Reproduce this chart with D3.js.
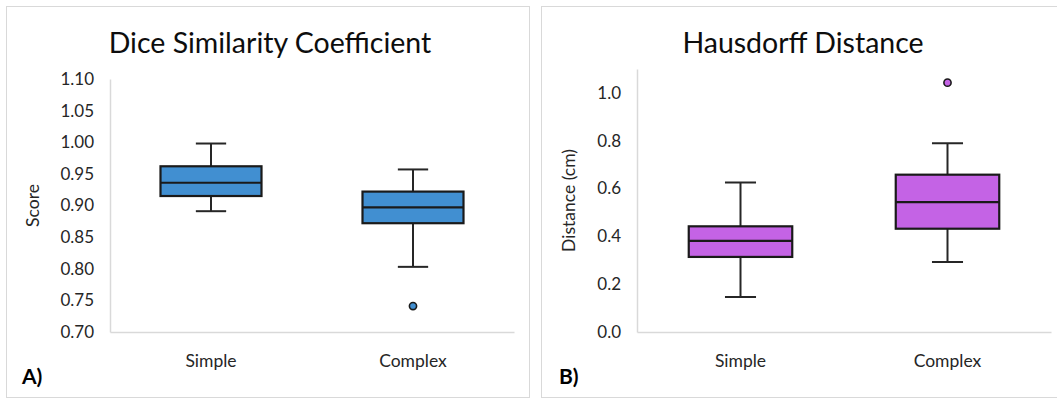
<!DOCTYPE html>
<html>
<head>
<meta charset="utf-8">
<script src="https://cdn.jsdelivr.net/npm/d3@7"></script>
<style>
  body { margin: 0; background: #fff; }
  svg { display: block; font-family: Lato, "Open Sans", sans-serif; }
</style>
</head>
<body>
<div id="container"></div>
<script>
// box plot summary values
var categories = ["Simple", "Complex"];

var diceMin = [0.891, 0.803];
var diceQ1 = [0.915, 0.872];
var diceMedian = [0.936, 0.897];
var diceQ3 = [0.962, 0.922];
var diceMax = [0.998, 0.957];
var diceOutliers = [[], [0.741]];
var diceTicks = [0.70, 0.75, 0.80, 0.85, 0.90, 0.95, 1.00, 1.05, 1.10];

var hdMin = [0.146, 0.293];
var hdQ1 = [0.314, 0.432];
var hdMedian = [0.381, 0.543];
var hdQ3 = [0.442, 0.658];
var hdMax = [0.625, 0.789];
var hdOutliers = [[], [1.043]];
var hdTicks = [0.0, 0.2, 0.4, 0.6, 0.8, 1.0];

var width = 1057, height = 399;

var svg = d3.select("#container").append("svg")
    .attr("width", width)
    .attr("height", height);

function makeRows(mins, q1s, meds, q3s, maxs, outs) {
    return categories.map(function(c, i) {
        return {cat: c, min: mins[i], q1: q1s[i], med: meds[i], q3: q3s[i], max: maxs[i], out: outs[i]};
    });
}

function drawPanel(p) {
    var g = svg.append("g");

    // panel frame
    g.append("rect")
        .attr("x", p.frame[0] + 0.5)
        .attr("y", p.frame[1] + 0.5)
        .attr("width", p.frame[2])
        .attr("height", p.frame[3])
        .attr("fill", "#fff")
        .attr("stroke", "#d9d9d9")
        .attr("stroke-width", 1);

    var x = d3.scaleBand().domain(categories).range([p.left, p.right]);
    var y = d3.scaleLinear().domain(p.domain).range([p.bottom, p.top]);

    // y axis (excel style: light line, no ticks)
    var yAxis = g.append("g")
        .attr("transform", "translate(" + p.left + ",0)")
        .call(d3.axisLeft(y).tickValues(p.ticks).tickSize(0).tickPadding(16).tickFormat(d3.format(p.fmt)));
    yAxis.attr("font-size", null).attr("font-family", null);
    yAxis.select(".domain").attr("stroke", "#d9d9d9").attr("stroke-width", 1.5);
    yAxis.selectAll("text")
        .style("font-size", "17px")
        .attr("fill", "#262626");

    var xAxis = g.append("g")
        .attr("transform", "translate(0," + p.bottom + ")")
        .call(d3.axisBottom(x).tickSize(0).tickPadding(23));
    xAxis.attr("font-size", null).attr("font-family", null);
    xAxis.select(".domain").attr("stroke", "#d9d9d9").attr("stroke-width", 1.5);
    xAxis.selectAll("text")
        .style("font-size", "17.5px")
        .attr("fill", "#262626");

    var rows = makeRows.apply(null, p.data);
    var bw = x.bandwidth() * 0.5;
    var cap = bw * 0.3;

    var box = g.selectAll(".box")
        .data(rows)
        .enter().append("g")
        .attr("class", "box")
        .attr("transform", function(d) { return "translate(" + (x(d.cat) + x.bandwidth() / 2) + ",0)"; });

    // whiskers
    box.append("line")
        .attr("x1", 0).attr("x2", 0)
        .attr("y1", function(d) { return y(d.max); })
        .attr("y2", function(d) { return y(d.q3); })
        .attr("stroke", "#262626").attr("stroke-width", 2);
    box.append("line")
        .attr("x1", 0).attr("x2", 0)
        .attr("y1", function(d) { return y(d.q1); })
        .attr("y2", function(d) { return y(d.min); })
        .attr("stroke", "#262626").attr("stroke-width", 2);
    box.append("line")
        .attr("x1", -cap / 2).attr("x2", cap / 2)
        .attr("y1", function(d) { return y(d.max); })
        .attr("y2", function(d) { return y(d.max); })
        .attr("stroke", "#262626").attr("stroke-width", 2);
    box.append("line")
        .attr("x1", -cap / 2).attr("x2", cap / 2)
        .attr("y1", function(d) { return y(d.min); })
        .attr("y2", function(d) { return y(d.min); })
        .attr("stroke", "#262626").attr("stroke-width", 2);

    box.append("rect")
        .attr("x", -bw / 2)
        .attr("width", bw)
        .attr("y", function(d) { return y(d.q3); })
        .attr("height", function(d) { return y(d.q1) - y(d.q3); })
        .attr("fill", p.color)
        .attr("stroke", "#1a1a1a")
        .attr("stroke-width", 2.2);

    box.append("line")
        .attr("x1", -bw / 2).attr("x2", bw / 2)
        .attr("y1", function(d) { return y(d.med); })
        .attr("y2", function(d) { return y(d.med); })
        .attr("stroke", "#1a1a1a").attr("stroke-width", 2.2);

    box.selectAll(".outlier")
        .data(function(d) { return d.out; })
        .enter().append("circle")
        .attr("class", "outlier")
        .attr("cx", 0)
        .attr("cy", function(v) { return y(v); })
        .attr("r", 3.6)
        .attr("fill", p.color)
        .attr("stroke", "#1a1a1a")
        .attr("stroke-width", 1.6);

    // titles and labels
    g.append("text")
        .attr("x", p.titleX)
        .attr("y", 53)
        .attr("text-anchor", "middle")
        .style("font-size", "28.5px")
        .attr("fill", "#0d0d0d")
        .text(p.title);

    g.append("text")
        .attr("transform", "translate(" + p.yLabelX + "," + ((p.top + p.bottom) / 2) + ") rotate(-90)")
        .attr("text-anchor", "middle")
        .attr("dy", "0.35em")
        .style("font-size", "17.5px")
        .attr("fill", "#262626")
        .text(p.yLabel);

    g.append("text")
        .attr("x", p.tagX)
        .attr("y", 384)
        .style("font-size", "21px")
        .attr("font-weight", "bold")
        .attr("fill", "#000")
        .text(p.tag);
}

drawPanel({
    frame: [6, 6, 523, 391],
    left: 110, right: 514, top: 79, bottom: 332,
    domain: [0.70, 1.10], ticks: diceTicks, fmt: ".2f",
    data: [diceMin, diceQ1, diceMedian, diceQ3, diceMax, diceOutliers],
    color: "#418fd1",
    title: "Dice Similarity Coefficient", titleX: 270,
    yLabel: "Score", yLabelX: 33,
    tag: "A)", tagX: 22
});

drawPanel({
    frame: [541, 6, 530, 391],
    left: 637, right: 1051, top: 69, bottom: 332,
    domain: [0, 1.1], ticks: hdTicks, fmt: ".1f",
    data: [hdMin, hdQ1, hdMedian, hdQ3, hdMax, hdOutliers],
    color: "#c463e5",
    title: "Hausdorff Distance", titleX: 803,
    yLabel: "Distance (cm)", yLabelX: 569,
    tag: "B)", tagX: 559
});
</script>
</body>
</html>
